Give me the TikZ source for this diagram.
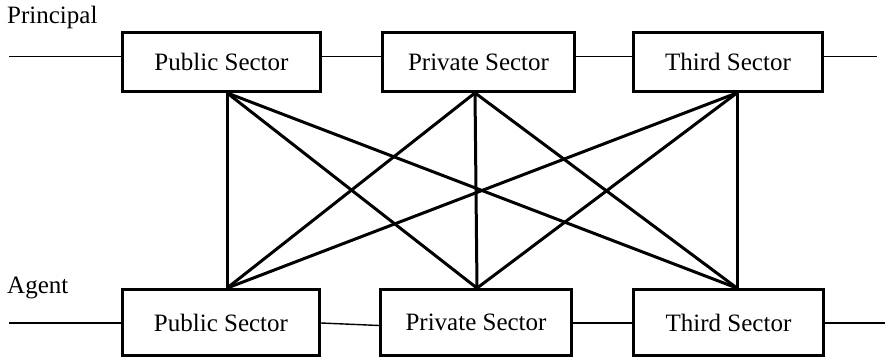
\documentclass[tikz,border=0pt]{standalone}
\usepackage{fontspec}
\setmainfont{Liberation Serif}
\begin{document}
\begin{tikzpicture}[x=1pt,y=1pt,
  sector/.style={draw, line width=2.8pt, inner sep=0pt, font=\fontsize{25}{30}\selectfont},
  toprow/.style={sector, minimum height=59pt},
  botrow/.style={sector, minimum height=66pt},
  link/.style={line width=1.4pt},
  tie/.style={line width=3pt},
  level/.style={anchor=base west, inner sep=0pt, font=\fontsize{25}{30}\selectfont}]
\useasboundingbox (0,0) rectangle (885,358);

% level labels
\node[level] (principal) at (7,334) {Principal};
\node[level] (agent) at (7,64) {Agent};

% principal row
\node[toprow, minimum width=198pt] (tpub) at (221.5,296) {Public Sector};
\node[toprow, minimum width=192pt] (tpri) at (478.5,296) {Private Sector};
\node[toprow, minimum width=189pt] (tthi) at (728,296) {Third Sector};

% agent row
\node[botrow, minimum width=197pt] (bpub) at (221,35.5) {Public Sector};
\node[botrow, minimum width=191pt] (bpri) at (476,35.5) {Private Sector};
\node[botrow, minimum width=190pt] (bthi) at (728.5,35.5) {Third Sector};

% horizontal links
\coordinate (tlL) at (9,301.5);
\coordinate (tlR) at (877,301.5);
\coordinate (blL) at (9,35);
\coordinate (blR) at (885,35);
\draw[link] (tlL) -- (tlL -| tpub.west);
\draw[link] (tpub.east |- tlL) -- (tpri.west |- tlL);
\draw[link] (tpri.east |- tlL) -- (tthi.west |- tlL);
\draw[link] (tthi.east |- tlL) -- (tlR);
\draw[link] (blL) -- (blL -| bpub.west);
\draw[link] (bpub.east |- blL) -- ([yshift=-2.5pt]bpri.west |- blL);
\draw[link] (bpri.east |- blL) -- (bthi.west |- blL);
\draw[link] (bthi.east |- blL) -- (blR);

% attachment points of the cross ties
\coordinate (ta) at ([xshift=5.5pt]tpub.south);
\coordinate (tb) at ([xshift=-3.5pt]tpri.south);
\coordinate (tc) at ([xshift=9pt]tthi.south);
\coordinate (ba) at ([xshift=6pt]bpub.north);
\coordinate (bb) at ([xshift=1pt]bpri.north);
\coordinate (bc) at ([xshift=8.5pt]bthi.north);

% every principal tied to every agent
\foreach \t in {ta,tb,tc}
  \foreach \b in {ba,bb,bc}
    \draw[tie, line join=round] (\t) -- (\b);
\end{tikzpicture}
\end{document}
